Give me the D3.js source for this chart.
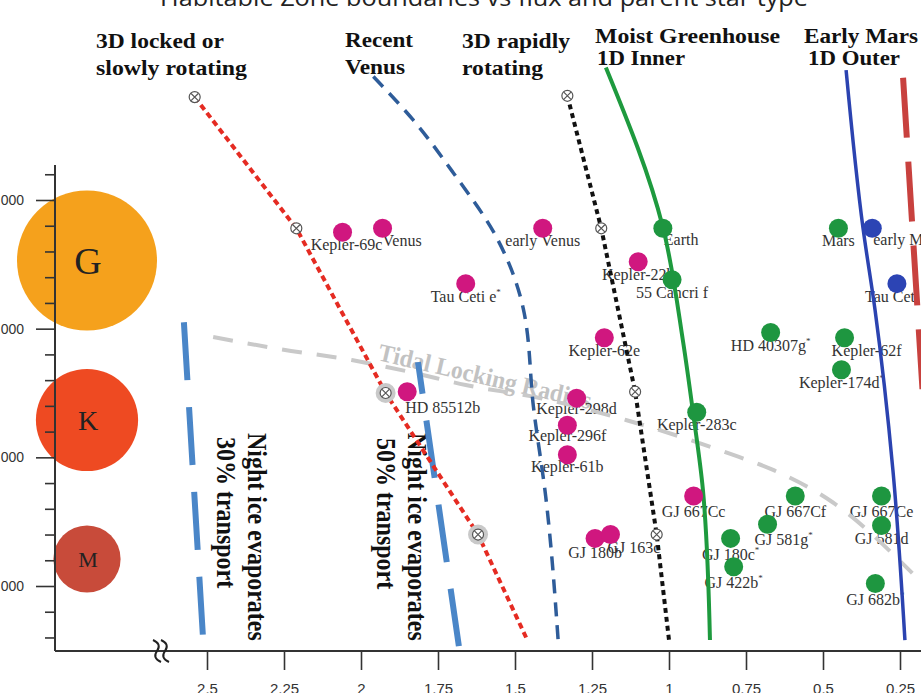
<!DOCTYPE html>
<html>
<head>
<meta charset="utf-8">
<script src="https://cdn.jsdelivr.net/npm/d3@7"></script>
<style>
  body { margin: 0; background: #fff; }
  svg { display: block; }
</style>
</head>
<body>
<svg id="chart" width="921" height="693"></svg>
<script>
// ---- data ----
const fluxTicks = [2.5, 2.25, 2, 1.75, 1.5, 1.25, 1, 0.75, 0.5, 0.25];
const tempTicks = [3000, 4000, 5000, 6000];
const tempMinor = [2600, 2800, 3200, 3400, 3600, 3800, 4200, 4400, 4600, 4800, 5200, 5400, 5600, 5800, 6200];

const starTypes = ["G", "K", "M"];
const starTemps = [5530, 4290, 3210];
const starRadii = [1.0, 0.73, 0.48];

const planetNames = [
  "Kepler-69c", "Venus", "Tau Ceti e", "early Venus", "Kepler-22b", "Kepler-62e", "HD 85512b",
  "Kepler-298d", "Kepler-296f", "Kepler-61b", "GJ 667Cc", "GJ 180b", "GJ 163c",
  "Earth", "55 Cancri f", "Mars", "HD 40307g", "Kepler-62f", "Kepler-174d", "Kepler-283c",
  "GJ 667Cf", "GJ 667Ce", "GJ 581g", "GJ 581d", "GJ 180c", "GJ 422b", "GJ 682b",
  "early Mars", "Tau Ceti f"
];
const planetFlux = [
  2.06, 1.93, 1.66, 1.41, 1.10, 1.21, 1.85,
  1.30, 1.33, 1.33, 0.92, 1.24, 1.19,
  1.02, 0.99, 0.45, 0.67, 0.43, 0.44, 0.91,
  0.59, 0.31, 0.68, 0.31, 0.80, 0.79, 0.33,
  0.34, 0.26
];
const planetTemp = [
  5750, 5780, 5350, 5780, 5520, 4930, 4510,
  4460, 4250, 4020, 3700, 3370, 3400,
  5780, 5380, 5780, 4970, 4930, 4680, 4350,
  3700, 3700, 3480, 3470, 3370, 3150, 3020,
  5780, 5350
];
const planetKind = [
  "hot", "hot", "hot", "hot", "hot", "hot", "hot",
  "hot", "hot", "hot", "hot", "hot", "hot",
  "hz", "hz", "hz", "hz", "hz", "hz", "hz",
  "hz", "hz", "hz", "hz", "hz", "hz", "hz",
  "cold", "cold"
];
const planetStarred = ["Tau Ceti e", "HD 40307g", "Kepler-174d", "GJ 581g", "GJ 180c", "GJ 422b", "GJ 682b"];

// boundaries (flux, temperature)
const lockedSimFlux = [2.54, 2.21, 1.92, 1.62];
const lockedSimTemp = [6800, 5780, 4500, 3400];
const lockedSimHalo = [false, false, true, true];
const lockedEnd = [1.46, 2580];

const rapidSimFlux = [1.33, 1.22, 1.11, 1.04];
const rapidSimTemp = [6810, 5780, 4510, 3400];
const rapidEnd = [1.00, 2580];

const recentVenusFlux = [1.96, 1.83, 1.70, 1.56, 1.47, 1.44, 1.40, 1.36];
const recentVenusTemp = [6960, 6620, 6210, 5710, 5120, 4390, 3690, 2580];

const moistFlux = [1.205, 1.02, 0.955, 0.922, 0.89, 0.867];
const moistTemp = [7030, 5790, 4910, 4350, 3750, 2580];

const earlyMarsFlux = [0.425, 0.37, 0.331, 0.273, 0.234];
const earlyMarsTemp = [7010, 5780, 5145, 3900, 2580];

const maxGreenFlux = [0.240, 0.175];
const maxGreenTemp = [6950, 4450];

const tidalFlux = [2.48, 2.26, 2.03, 1.84, 1.66, 1.42, 1.14, 0.81, 0.66, 0.47, 0.21];
const tidalTemp = [4935, 4840, 4756, 4663, 4562, 4461, 4290, 4034, 3900, 3653, 3100];

const ice30Flux = [2.575, 2.513];
const ice30Temp = [5050, 2600];
const ice50Flux = [1.815, 1.68];
const ice50Temp = [4740, 2495];

// ---- layout ----
const svg = d3.select("#chart");
const axisX0 = 55, axisY0 = 651, axisTop = 165;

const x = d3.scaleLinear().domain([2.5, 0.25]).range([207, 900]);
const y = d3.scaleLinear().domain([3000, 6000]).range([586, 200]);
const starR = d3.scaleLinear().domain([0, 1]).range([0, 70]);
const kindColor = d3.scaleOrdinal().domain(["hot", "hz", "cold"]).range(["#d0177f", "#1e9640", "#2c44b4"]);

const zip = (f, t) => f.map((v, i) => [v, t[i]]);
const lineOf = curve => d3.line().x(d => x(d[0])).y(d => y(d[1])).curve(curve || d3.curveLinear);

const serif = "'Liberation Serif', 'Times New Roman', serif";
const sans = "'Liberation Sans', Arial, sans-serif";

// title (cut off at the top edge)
svg.append("text")
  .attr("x", 160).attr("y", 6)
  .attr("textLength", 648).attr("lengthAdjust", "spacingAndGlyphs")
  .style("font-family", "'Open Sans', sans-serif").style("font-size", "24px").attr("fill", "#222")
  .text("Habitable Zone boundaries vs flux and parent star type");

// star type discs
const stars = svg.append("g");
starTypes.forEach((s, i) => {
  const cy = y(starTemps[i]);
  stars.append("circle").attr("cx", 87).attr("cy", cy).attr("r", starR(starRadii[i]))
    .attr("fill", ["#f5a11c", "#ee4a22", "#c84b3a"][i]);
  stars.append("text").attr("x", 88).attr("y", cy)
    .attr("text-anchor", "middle").attr("dy", "0.35em")
    .style("font-family", serif).style("font-size", [38, 28, 22][i] + "px").attr("fill", "#222")
    .text(s);
});

// headers
const headers = [
  ["3D locked or", 96, 48, 128], ["slowly rotating", 96, 75, 151],
  ["Recent", 345, 47, 68], ["Venus", 345, 74, 60],
  ["3D rapidly", 462, 48, 108], ["rotating", 462, 75, 81],
  ["Moist Greenhouse", 595, 43, 185], ["1D Inner", 597, 65, 88],
  ["Early Mars", 804, 43, 114], ["1D Outer", 808, 65, 92]
];
svg.append("g").selectAll("text").data(headers).join("text")
  .attr("x", d => d[1]).attr("y", d => d[2])
  .attr("textLength", d => d[3]).attr("lengthAdjust", "spacingAndGlyphs")
  .style("font-family", serif).style("font-size", "22px").style("font-weight", "bold").attr("fill", "#111")
  .text(d => d[0]);

// tidal locking label
svg.append("text")
  .attr("transform", "translate(377,360) rotate(13)")
  .attr("textLength", 218).attr("lengthAdjust", "spacingAndGlyphs")
  .style("font-family", serif).style("font-size", "25px").style("font-weight", "bold").attr("fill", "#c2c2c2")
  .text("Tidal Locking Radius");

// night ice vertical notes
const notes = [
  ["Night ice evaporates", 248, 433], ["30% transport", 217, 437],
  ["Night ice evaporates", 408, 433], ["50% transport", 377, 438]
];
svg.append("g").selectAll("text").data(notes).join("text")
  .attr("transform", d => `translate(${d[1]},${d[2]}) scale(1.13,1) rotate(90)`)
  .style("font-family", serif).style("font-size", "24px").style("font-weight", "bold").attr("fill", "#111")
  .text(d => d[0]);

// planet labels (beneath lines)
const labelNudge = {
  "Kepler-69c": { dx: 4 },
  "Venus": { anchor: "start", dx: 0, dy: 18 },
  "HD 85512b": { anchor: "start", dx: -2, dy: 21 },
  "GJ 163c": { anchor: "start", dx: -3, dy: 18 },
  "Earth": { anchor: "start", dx: 1, dy: 17 },
  "early Mars": { anchor: "start", dx: 1, dy: 17 },
  "Kepler-62f": { dx: 22 },
  "GJ 581g": { dx: 16, dy: 21 },
  "GJ 667Cc": { dy: 21 }, "GJ 667Cf": { dy: 21 }, "GJ 667Ce": { dy: 21 },
  "GJ 180c": { dy: 22 }, "GJ 422b": { dy: 21 }, "GJ 682b": { dy: 22 }, "GJ 180b": { dy: 20 },
  "Kepler-298d": { dy: 16 }, "Kepler-296f": { dy: 16 }, "Kepler-61b": { dy: 17 }
};
const planets = planetNames.map((n, i) => ({ name: n, flux: planetFlux[i], temp: planetTemp[i], kind: planetKind[i] }));

const labels = svg.append("g").selectAll("text").data(planets).join("text")
  .attr("x", d => x(d.flux) + ((labelNudge[d.name] || {}).dx || 0))
  .attr("y", d => y(d.temp) + ((labelNudge[d.name] || {}).dy || 18))
  .attr("text-anchor", d => (labelNudge[d.name] || {}).anchor || "middle")
  .style("font-family", serif).style("font-size", "16px").attr("fill", "#333");
labels.append("tspan").text(d => d.name);
labels.filter(d => planetStarred.includes(d.name)).append("tspan")
  .attr("dy", -7).style("font-size", "9px").text("*");

// boundary lines
const boundaries = [
  { pts: zip(tidalFlux, tidalTemp), color: "#c9c9c9", w: 4, dash: "20 15", curve: d3.curveMonotoneX },
  { pts: zip(ice30Flux, ice30Temp), color: "#4a86c8", w: 6, dash: "58 27" },
  { pts: zip(ice50Flux, ice50Temp), color: "#4a86c8", w: 6, dash: "58 27", offset: 26 },
  { pts: zip(lockedSimFlux, lockedSimTemp).concat([lockedEnd]), color: "#e52b22", w: 4, dash: "6 4" },
  { pts: zip(recentVenusFlux, recentVenusTemp), color: "#2e5c99", w: 3.5, dash: "14 9", curve: d3.curveMonotoneY },
  { pts: zip(rapidSimFlux, rapidSimTemp).concat([rapidEnd]), color: "#111", w: 4, dash: "5 4" },
  { pts: zip(moistFlux, moistTemp), color: "#1e9a3e", w: 4, curve: d3.curveMonotoneY },
  { pts: zip(earlyMarsFlux, earlyMarsTemp), color: "#2b43b0", w: 3.5, curve: d3.curveMonotoneY },
  { pts: zip(maxGreenFlux, maxGreenTemp), color: "#c8413e", w: 6, dash: "60 24" }
];
svg.append("g").selectAll("path").data(boundaries).join("path")
  .attr("d", d => lineOf(d.curve)(d.pts))
  .attr("fill", "none")
  .attr("stroke", d => d.color)
  .attr("stroke-width", d => d.w)
  .attr("stroke-dasharray", d => d.dash || null)
  .attr("stroke-dashoffset", d => d.offset || 0);

// GCM simulation markers
const sims = zip(lockedSimFlux, lockedSimTemp).map((p, i) => ({ p, halo: lockedSimHalo[i] }))
  .concat(zip(rapidSimFlux, rapidSimTemp).map(p => ({ p, halo: false })));
const simG = svg.append("g").selectAll("g").data(sims).join("g")
  .attr("transform", d => `translate(${x(d.p[0])},${y(d.p[1])})`);
simG.filter(d => d.halo).append("circle").attr("r", 10).attr("fill", "#c9c9c9");
simG.append("circle").attr("r", 5.5).attr("fill", "#fff").attr("stroke", "#555").attr("stroke-width", 1.2);
simG.append("path").attr("d", "M-3.6,-3.6L3.6,3.6M-3.6,3.6L3.6,-3.6").attr("stroke", "#555").attr("stroke-width", 1.2);

// planets
svg.append("g").selectAll("circle").data(planets).join("circle")
  .attr("cx", d => x(d.flux)).attr("cy", d => y(d.temp)).attr("r", 9.5)
  .attr("fill", d => kindColor(d.kind));

// axes
const axisColor = "#333";
const xAxis = svg.append("g").attr("transform", `translate(0,${axisY0})`)
  .call(d3.axisBottom(x).tickValues(fluxTicks).tickSize(19).tickPadding(13).tickFormat(d => String(d)));
const yAxis = svg.append("g").attr("transform", `translate(${axisX0},0)`)
  .call(d3.axisLeft(y).tickValues(tempTicks).tickSize(19).tickPadding(12));
const yMinor = svg.append("g").attr("transform", `translate(${axisX0},0)`)
  .call(d3.axisLeft(y).tickValues(tempMinor).tickSize(10).tickFormat(""));
[xAxis, yAxis, yMinor].forEach(g => {
  g.select(".domain").remove();
  g.selectAll("line").attr("stroke", axisColor).attr("stroke-width", 1.6);
  g.selectAll("text").attr("fill", "#333").style("font-family", sans);
});
xAxis.selectAll("text").style("font-size", "15px");
yAxis.selectAll("text").style("font-size", "14px");

svg.append("line").attr("x1", axisX0).attr("x2", 921).attr("y1", axisY0).attr("y2", axisY0)
  .attr("stroke", axisColor).attr("stroke-width", 2);
svg.append("line").attr("x1", axisX0).attr("x2", axisX0).attr("y1", axisTop).attr("y2", axisY0)
  .attr("stroke", axisColor).attr("stroke-width", 2);

// axis break mark
svg.append("g").selectAll("path").data([157, 165]).join("path")
  .attr("d", cx => `M${cx - 4},${axisY0 - 11} Q${cx + 5},${axisY0 - 7} ${cx},${axisY0} T${cx + 4},${axisY0 + 11}`)
  .attr("fill", "none").attr("stroke", "#222").attr("stroke-width", 2);
</script>
</body>
</html>
